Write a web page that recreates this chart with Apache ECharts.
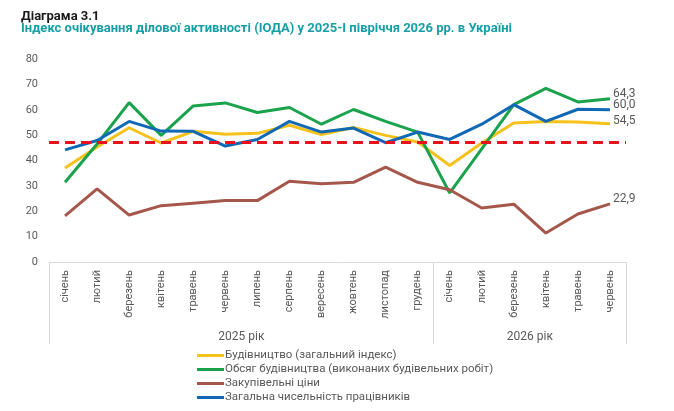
<!DOCTYPE html>
<html>
<head>
<meta charset="utf-8">
<script src="https://cdn.jsdelivr.net/npm/echarts@6/dist/echarts.min.js"></script>
<style>
  html, body { margin: 0; padding: 0; background: #fff; }
  #chart { width: 674px; height: 411px; }
</style>
</head>
<body>
<div id="chart"></div>
<script>
// місяці (2025 рік - 12, 2026 рік - 6)
var months = ['січень', 'лютий', 'березень', 'квітень', 'травень', 'червень', 'липень', 'серпень',
    'вересень', 'жовтень', 'листопад', 'грудень',
    'січень', 'лютий', 'березень', 'квітень', 'травень', 'червень'];
var years = ['2025 рік', '2026 рік'];

var budivnytstvo = [37.0, 45.3, 52.9, 46.9, 51.5, 50.3, 50.7, 53.9, 50.2, 53.0, 49.9, 47.3,
    38.0, 46.9, 54.8, 55.4, 55.2, 54.5];
var obsyag = [31.4, 46.5, 62.8, 49.9, 61.5, 62.7, 58.9, 60.9, 54.3, 60.1, 55.4, 51.2,
    27.2, 44.6, 62.0, 68.4, 63.1, 64.3];
var ciny = [18.2, 28.8, 18.5, 22.2, 23.2, 24.2, 24.2, 31.8, 30.8, 31.4, 37.4, 31.4,
    28.5, 21.3, 22.8, 11.4, 18.9, 22.9];
var chyselnist = [44.2, 47.9, 55.4, 51.6, 51.5, 45.7, 48.3, 55.4, 51.2, 52.8, 47.0, 51.2,
    48.3, 54.3, 62.0, 55.4, 60.2, 60.0];
var riven = 47.1; // червона пунктирна лінія

var seriesNames = ['Будівництво (загальний індекс)', 'Обсяг будівництва (виконаних будівельних робіт)',
    'Закупівельні ціни', 'Загальна чисельність працівників'];
var seriesColors = ['#f5c21b', '#1aa24c', '#a5574c', '#1169b5'];
var seriesData = [budivnytstvo, obsyag, ciny, chyselnist];
var labelShift = [-3, -5, -5, -5];

var gray = '#595959';
var font = 'Roboto, "Liberation Sans", sans-serif';

function fmt(v) {
    return v.toFixed(1).replace('.', ',');
}

var series = [];
for (var s = 0; s < seriesData.length; s++) {
    series.push({
        name: seriesNames[s],
        type: 'line',
        data: seriesData[s],
        symbol: 'none',
        lineStyle: { width: 3, color: seriesColors[s] },
        itemStyle: { color: seriesColors[s] },
        endLabel: {
            show: true,
            distance: 3,
            offset: [0, labelShift[s]],
            color: gray,
            fontSize: 12,
            fontFamily: font,
            formatter: function (p) { return fmt(p.value); }
        },
        markLine: s === 0 ? {
            silent: true,
            symbol: 'none',
            label: { show: false },
            lineStyle: { color: '#e3141b', width: 3, type: [10, 6] },
            data: [{ yAxis: riven }]
        } : undefined
    });
}

var myChart = echarts.init(document.getElementById('chart'));
var option = {
    backgroundColor: '#fff',
    animation: false,
    textStyle: { fontFamily: font },
    title: [{
        text: 'Діаграма 3.1',
        left: 16,
        top: 5,
        textStyle: { fontSize: 13, fontWeight: 'bold', color: '#1a1a1a', fontFamily: font }
    }, {
        text: 'Індекс очікування ділової активності (ІОДА) у 2025-І півріччя 2026 рр. в Україні',
        left: 16,
        top: 17,
        textStyle: { fontSize: 13, fontWeight: 'bold', color: '#179ea6', fontFamily: font }
    }],
    grid: { left: 49, right: 48, top: 59, bottom: 149 },
    legend: {
        orient: 'vertical',
        left: 192,
        top: 344,
        height: 120,
        icon: 'rect',
        itemWidth: 27,
        itemHeight: 3,
        itemGap: 1,
        textStyle: { color: gray, fontSize: 11.5, fontFamily: font, lineHeight: 13, padding: [0, 0, 0, -4] },
        data: seriesNames
    },
    xAxis: [{
        type: 'category',
        data: months,
        boundaryGap: true,
        axisLine: { lineStyle: { color: '#d9d9d9' } },
        axisTick: { show: false },
        axisLabel: { rotate: 90, margin: 8, color: gray, fontSize: 11, fontFamily: font, interval: 0 }
    }, {
        type: 'value',
        position: 'bottom',
        min: 0,
        max: 18,
        axisLine: { show: false },
        splitLine: { show: false },
        axisTick: { show: true, customValues: [0, 12, 18], length: 82, lineStyle: { color: '#d9d9d9' } },
        axisLabel: {
            customValues: [6, 15],
            margin: 69,
            color: gray,
            fontSize: 12,
            fontFamily: font,
            formatter: function (v) { return v < 12 ? years[0] : years[1]; }
        }
    }],
    yAxis: {
        type: 'value',
        min: 0,
        max: 80,
        interval: 10,
        axisLine: { show: false },
        axisTick: { show: false },
        splitLine: { show: false },
        axisLabel: { color: gray, fontSize: 11, margin: 11, fontFamily: font }
    },
    series: series
};
myChart.setOption(option);
</script>
</body>
</html>
